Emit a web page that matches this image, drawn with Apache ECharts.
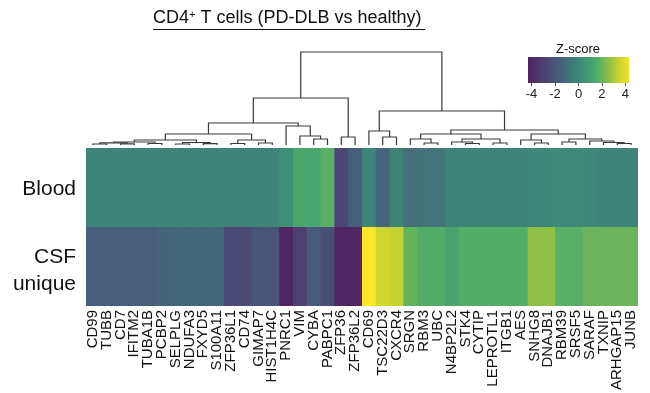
<!DOCTYPE html>
<html><head><meta charset="utf-8">
<script src="https://cdn.jsdelivr.net/npm/echarts@6/dist/echarts.min.js"></script>
<style>html,body{margin:0;padding:0;background:#fff}#chart{width:650px;height:393px}</style>
</head><body><div id="chart"></div>
<script>
// ---- data ----
const genes = ['CD99','TUBB','CD7','IFITM2','TUBA1B','PCBP2','SELPLG','NDUFA3','FXYD5','S100A11',
  'ZFP36L1','CD74','GIMAP7','HIST1H4C','PNRC1','VIM','CYBA','PABPC1','ZFP36','ZFP36L2',
  'CD69','TSC22D3','CXCR4','SRGN','RBM3','UBC','N4BP2L2','STK4','CYTIP','LEPROTL1',
  'ITGB1','AES','SNHG8','DNAJB1','RBM39','SRSF5','SARAF','TXNIP','ARHGAP15','JUNB'];
const rows = ['Blood', 'CSF unique'];
const bloodZ = [-0.1,-0.1,-0.1,-0.1,-0.1,-0.1,-0.1,-0.1,-0.1,-0.1,
  -0.1,-0.1,-0.1,-0.1,0.4,1.3,1.3,1.7,-2.6,-1.6,
  -0.1,-1.3,-0.2,-1.0,-0.8,-0.8,-0.1,-0.1,-0.1,-0.1,
  -0.1,-0.1,0.0,0.0,0.1,0.1,0.0,-0.1,-0.1,-0.1];
const csfZ = [-1.6,-1.6,-1.6,-1.6,-1.6,-1.4,-1.2,-1.2,-1.2,-1.2,
  -2.4,-2.4,-2.0,-2.0,-4.2,-3.0,-1.8,-2.3,-4.2,-4.2,
  4.5,3.6,3.4,1.9,1.6,1.6,1.2,1.6,1.6,1.6,
  1.6,1.6,2.6,2.6,1.7,1.7,2.0,2.0,2.0,2.0];
const colorbarTicks = [-4, -2, 0, 2, 4];
const zRange = [-4.5, 4.5];
const colorbarRange = [-4.3, 4.3];
const palette = ['#4e1f5e','#50356b','#4b4975','#46607b','#407b79','#3e9277','#4dab6c','#88bd4a','#cbd52f','#f8e729'];
// dendrogram: [left, right, mergeHeight]; leaves are column indices
const dendrogram = [
  [
    [
      [
        [[[[0,1,1],[2,3,1.2],2.2],[4,5,1.5],3],[[6,7,1],[8,9,1.3],2.5],5],
        [[10,11,1.5],[12,13,2],5],
        11],
      [14,[15,[16,17,6],9],19],
      22],
    [18,19,8],
    47],
  [
    [20,[21,22,8],14],
    [
      [[23,[24,25,2],6],[[26,[27,28,1.5],3],[29,30,2],6],11],
      [[31,[32,33,2],5],[[34,35,3],[36,[37,[38,39,1.5],2.5],4],6],11],
      15],
    34],
  93];

// ---- build ----
const FONT = '"Liberation Sans", Arial, Helvetica, sans-serif';
const heatData = [];
genes.forEach((g, i) => { heatData.push([i, 0, bloodZ[i]]); heatData.push([i, 1, csfZ[i]]); });

const links = [];
function walk(node) {
  if (typeof node === 'number') return { x: node, h: 0 };
  const a = walk(node[0]), b = walk(node[1]);
  links.push([a.x, b.x, a.h, b.h, node[2]]);
  return { x: (a.x + b.x) / 2, h: node[2] };
}
walk(dendrogram);

const chart = echarts.init(document.getElementById('chart'), null, { renderer: 'canvas' });
chart.setOption({
  backgroundColor: '#fff',
  animation: false,
  textStyle: { fontFamily: FONT },
  title: [
    { text: '{a|CD4}{s|+}{a| T cells (PD-DLB vs healthy)}', left: 153, top: 9, padding: 0,
      textStyle: { fontWeight: 'normal', rich: {
        a: { fontSize: 18, color: '#111', fontFamily: FONT, fontWeight: 'normal' },
        s: { fontSize: 11, color: '#111', fontFamily: FONT, fontWeight: 'normal', verticalAlign: 'top' } } } },
    { text: 'Z-score', left: 578, top: 43, padding: 0, textAlign: 'center',
      textStyle: { fontSize: 13, fontWeight: 'normal', color: '#111', fontFamily: FONT } }
  ],
  graphic: [
    { type: 'line', shape: { x1: 153, y1: 29.5, x2: 425, y2: 29.5 }, style: { stroke: '#111', lineWidth: 1 } }
  ],
  grid: [
    { left: 86, top: 148, width: 552, height: 158 },
    { left: 86, top: 52, width: 552, height: 93 },
    { left: 528, top: 57, width: 101, height: 26 }
  ],
  xAxis: [
    { type: 'category', gridIndex: 0, data: genes,
      axisLine: { show: false }, axisTick: { show: false },
      axisLabel: { rotate: 90, interval: 0, fontSize: 15, color: '#111', margin: 4, fontFamily: FONT } },
    { type: 'value', gridIndex: 1, min: -0.5, max: genes.length - 0.5, show: false },
    { type: 'value', gridIndex: 2, min: colorbarRange[0], max: colorbarRange[1],
      axisLine: { show: false }, splitLine: { show: false },
      axisTick: { show: true, customValues: colorbarTicks, length: 3, lineStyle: { color: '#555' } },
      axisLabel: { customValues: colorbarTicks, fontSize: 13, color: '#222', margin: 5, fontFamily: FONT } }
  ],
  yAxis: [
    { type: 'category', gridIndex: 0, data: rows, inverse: true,
      axisLine: { show: false }, axisTick: { show: false },
      axisLabel: { fontSize: 21, color: '#111', margin: 10, lineHeight: 27, align: 'right', fontFamily: FONT,
                   padding: [9, 0, 0, 0],
                   formatter: v => v === rows[0] ? '{b|' + v + '}' : v.replace(' ', '\n'),
                   rich: { b: { fontSize: 21, lineHeight: 25, color: '#111', fontFamily: FONT, padding: [0, 0, 6, 0] } } } },
    { type: 'value', gridIndex: 1, min: 0, max: 93, show: false },
    { type: 'value', gridIndex: 2, min: 0, max: 1, show: false }
  ],
  visualMap: {
    type: 'continuous', show: false, min: zRange[0], max: zRange[1], seriesIndex: 0, dimension: 2,
    inRange: { color: palette }
  },
  series: [
    { type: 'custom', xAxisIndex: 0, yAxisIndex: 0, data: heatData, silent: true,
      encode: { x: 0, y: 1 },
      renderItem: (params, api) => {
        const c = api.coord([api.value(0), api.value(1)]);
        const s = api.size([1, 1]);
        const lastCol = api.value(0) === genes.length - 1, lastRow = api.value(1) === rows.length - 1;
        return { type: 'rect',
          shape: { x: c[0] - s[0] / 2, y: c[1] - s[1] / 2,
                   width: s[0] + (lastCol ? 0 : 0.8), height: s[1] + (lastRow ? 0 : 0.8) },
          style: { fill: api.visual('color') } };
      } },
    { type: 'custom', xAxisIndex: 1, yAxisIndex: 1, data: links, silent: true,
      encode: { x: [0, 1], y: [2, 3, 4] },
      renderItem: (params, api) => {
        const xl = api.value(0), xr = api.value(1), hl = api.value(2), hr = api.value(3), h = api.value(4);
        return { type: 'polyline',
          shape: { points: [api.coord([xl, hl]), api.coord([xl, h]), api.coord([xr, h]), api.coord([xr, hr])] },
          style: { stroke: '#3a3a3a', lineWidth: 1.2, fill: null } };
      } },
    { type: 'custom', xAxisIndex: 2, yAxisIndex: 2, data: [colorbarRange], silent: true,
      encode: { x: [0, 1] },
      renderItem: (params, api) => {
        const p0 = api.coord([api.value(0), 1]), p1 = api.coord([api.value(1), 0]);
        const g0 = api.coord([zRange[0], 0]), g1 = api.coord([zRange[1], 0]);
        const stops = palette.map((c, i) => ({ offset: i / (palette.length - 1), color: c }));
        return { type: 'rect', shape: { x: p0[0], y: p0[1], width: p1[0] - p0[0], height: p1[1] - p0[1] },
          style: { fill: new echarts.graphic.LinearGradient(g0[0], 0, g1[0], 0, stops, true) } };
      } }
  ]
});
</script></body></html>
